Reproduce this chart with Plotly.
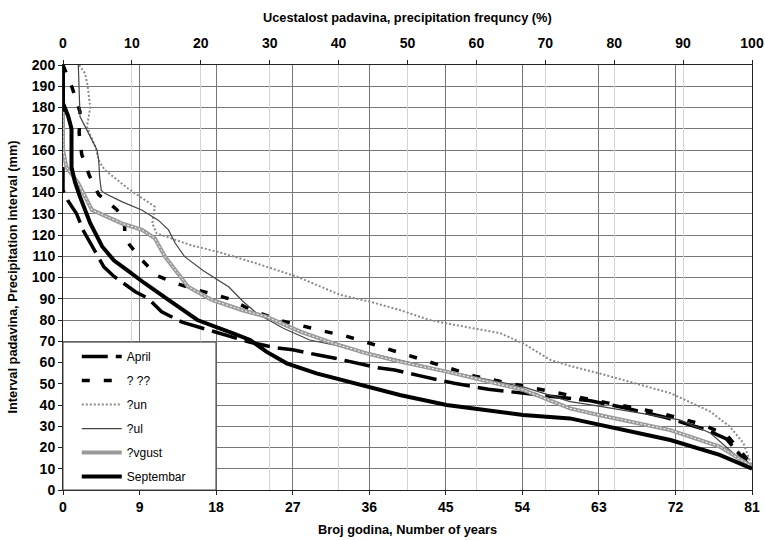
import plotly.graph_objects as go

# ---- data (years on bottom axis, precipitation interval mm on left axis) ----
april_x = [0, 0, 0.6, 1.6, 2.4, 3.4, 4.8, 6.0, 8.5, 10, 11.6, 14, 17.7, 20.6, 22, 25, 27, 30, 32, 37, 39, 42, 46, 50, 54, 58, 62, 66, 71, 75.7, 78, 81]
april_y = [200, 141, 136, 130, 122, 114.6, 105, 100.5, 93.3, 90.2, 83.9, 79, 74.5, 71.4, 69.5, 67, 66, 63.5, 62, 57.5, 56.5, 53.7, 50.2, 47.4, 45.6, 44, 42, 38.7, 34, 28.2, 24, 10]

maj_x = [0, 1.1, 2.0, 1.9, 2.2, 3.1, 4.2, 6.3, 7.2, 7.3, 9.1, 11, 12.8, 15, 17.5, 19.5, 22, 25.3, 30.6, 33.2, 35.3, 38, 40.4, 43.2, 46, 48.4, 51.2, 55.1, 57.6, 60.3, 64, 70, 75, 78, 81]
maj_y = [200, 189, 178, 168, 158, 148, 139, 132, 128, 118, 109, 101, 98, 95, 92.3, 90, 85, 80, 74.8, 72.5, 70, 66.6, 63.5, 60.4, 56.5, 53.6, 51.3, 48.1, 46.1, 43.9, 41, 36.5, 31, 26, 12]

jun_x = [1.9, 2.6, 2.9, 3.2, 3.0, 2.8, 3.8, 4.2, 4.9, 6.1, 7.6, 10.8, 10.6, 10.5, 11, 14.8, 18.7, 22.6, 27.5, 32.6, 36.1, 39.6, 43.1, 45.1, 51.4, 54.1, 57.3, 59.6, 63.05, 71.4, 76.1, 78.4, 80, 81]
jun_y = [200, 196, 190, 180, 175, 171, 161.5, 155, 150.6, 146.8, 142, 133.3, 128.6, 125.5, 120.8, 115.5, 111.5, 106.8, 100.4, 91.8, 88.6, 84.7, 80, 78.4, 73.8, 69, 61.2, 58.4, 54.9, 45.6, 36.9, 29.8, 22, 11]

jul_x = [1.8, 1.9, 2.0, 2.6, 3.4, 4.0, 4.2, 4.3, 4.5, 4.9, 6.9, 9.25, 11.2, 12.4, 13.2, 14.3, 16.5, 19.5, 21.2, 22.8, 25.9, 29, 33.7, 39.6, 45.1, 54.1, 59.6, 63, 72.5, 76.1, 78.8, 81]
jul_y = [200, 187, 175.7, 171, 164.7, 160, 155.3, 147.5, 141, 139.6, 135.7, 131.8, 127, 122.4, 116.1, 109.8, 103.2, 95.5, 88.6, 83.1, 76.1, 70.6, 66.7, 61.2, 56, 48.5, 41.6, 39.5, 33, 26.8, 17.3, 11]

avg_x = [0, 0, 0.4, 1.8, 3.4, 6.9, 9.3, 10.8, 12, 13.2, 14.7, 17.5, 20, 21, 23.9, 27.9, 31.8, 35.7, 39.6, 45.1, 54.1, 59.6, 63, 71.4, 77.2, 81]
avg_y = [178, 160, 152, 144.3, 131.8, 125.5, 122.4, 118.4, 109.8, 103.5, 95.7, 89.4, 86.3, 84.7, 81.6, 74.5, 69, 64.3, 60.4, 55.7, 47.1, 38.4, 35.3, 28.2, 20.4, 11]

sep_x = [0, 0, 0.6, 1.0, 1.0, 1.4, 2.0, 3.2, 4.6, 6.0, 7.5, 9.6, 12.4, 15.8, 20.0, 22.0, 23.9, 26.3, 29.8, 33.7, 39.6, 45.1, 54.1, 59.6, 63, 71.4, 77.2, 81]
sep_y = [200, 182, 176, 170, 152, 145, 138, 125.6, 114.6, 108, 103.6, 97.3, 89.5, 80, 73.7, 70.6, 65.1, 59.6, 54.9, 51, 44.7, 40, 35.3, 33.7, 30.9, 23.5, 16.5, 10]

names = ["April", "? ??", "?un", "?ul", "?vgust", "Septembar"]
year_ticks = [0, 9, 18, 27, 36, 45, 54, 63, 72, 81]
pct_ticks = [0, 10, 20, 30, 40, 50, 60, 70, 80, 90, 100]
mm_ticks = list(range(0, 201, 10))

title_top = "Ucestalost padavina, precipitation frequncy (%)"
title_bottom = "Broj godina, Number of years"
title_left = "Interval padavina, Precipitation interval (mm)"

FONT = "Arial, Liberation Sans, sans-serif"

fig = go.Figure()

fig.add_trace(go.Scatter(x=april_x, y=april_y, mode="lines", name=names[0], legendgroup="g1",
                         line=dict(color="black", width=3.5, dash="26px,8px")))
fig.add_trace(go.Scatter(x=maj_x, y=maj_y, mode="lines", name=names[1], legendgroup="g2",
                         line=dict(color="black", width=3.5, dash="8px,14px")))
fig.add_trace(go.Scatter(x=jun_x, y=jun_y, mode="lines", name=names[2], legendgroup="g3",
                         line=dict(color="#8a8a8a", width=2, dash="2px,2px")))
fig.add_trace(go.Scatter(x=jul_x, y=jul_y, mode="lines", name=names[3], legendgroup="g4",
                         line=dict(color="#444444", width=1.2)))
fig.add_trace(go.Scatter(x=avg_x, y=avg_y, mode="lines", name=names[4], legendgroup="g5",
                         line=dict(color="#9a9a9a", width=4)))
fig.add_trace(go.Scatter(x=avg_x, y=avg_y, mode="lines", showlegend=False, legendgroup="g5",
                         line=dict(color="white", width=1, dash="2px,2px")))
fig.add_trace(go.Scatter(x=sep_x, y=sep_y, mode="lines", name=names[5], legendgroup="g6",
                         line=dict(color="black", width=4)))

tick_font = dict(family=FONT, size=14, color="black", weight="bold")
title_font = dict(family=FONT, size=12.8, color="black", weight="bold")

axis_common = dict(showline=True, linecolor="#222222", linewidth=1, ticks="outside", ticklen=4,
                   tickcolor="#222222", tickfont=tick_font, zeroline=False, automargin=False)

fig.update_layout(
    width=765, height=540,
    margin=dict(l=63, r=13, t=65, b=50),
    paper_bgcolor="white", plot_bgcolor="white",
    font=dict(family=FONT, color="black"),
    xaxis=dict(range=[0, 81], tickvals=year_ticks, showgrid=True, gridcolor="#777777", gridwidth=1,
               **axis_common),
    xaxis2=dict(range=[0, 100], tickvals=pct_ticks, overlaying="x", side="top", anchor="y",
                showgrid=True, gridcolor="#d4d4d4", gridwidth=1, ticklabelstandoff=6, **axis_common),
    yaxis=dict(range=[0, 200], tickvals=mm_ticks, showgrid=True, gridcolor="#777777", gridwidth=1,
               mirror=True, **axis_common),
    legend=dict(x=0.02, y=-0.0025, xanchor="left", yanchor="bottom", bgcolor="rgba(0,0,0,0)",
                borderwidth=0, font=dict(family=FONT, size=12, color="black"),
                tracegroupgap=5, traceorder="grouped", itemwidth=40),
    shapes=[dict(type="rect", xref="paper", yref="paper", x0=0, x1=0.222, y0=0, y1=0.348,
                 fillcolor="white", line=dict(color="#444444", width=1), layer="above")],
    annotations=[
        dict(text=title_top, xref="paper", yref="paper", x=0.5, y=1.1106, xanchor="center",
             yanchor="middle", showarrow=False, font=title_font),
        dict(text=title_bottom, xref="paper", yref="paper", x=0.5, y=-0.094, xanchor="center",
             yanchor="middle", showarrow=False, font=title_font),
        dict(text=title_left, xref="paper", yref="paper", x=-0.074, y=0.5, xanchor="center",
             yanchor="middle", textangle=-90, showarrow=False, font=title_font),
    ],
    showlegend=True,
)

# invisible trace to activate the top (percentage) axis
fig.add_trace(go.Scatter(x=[0, 100], y=[0, 0], xaxis="x2", mode="lines", showlegend=False,
                         line=dict(width=0), hoverinfo="skip"))

fig.write_html("out.html", config={"displayModeBar": False},
               post_script="document.body.style.margin='0px';")
